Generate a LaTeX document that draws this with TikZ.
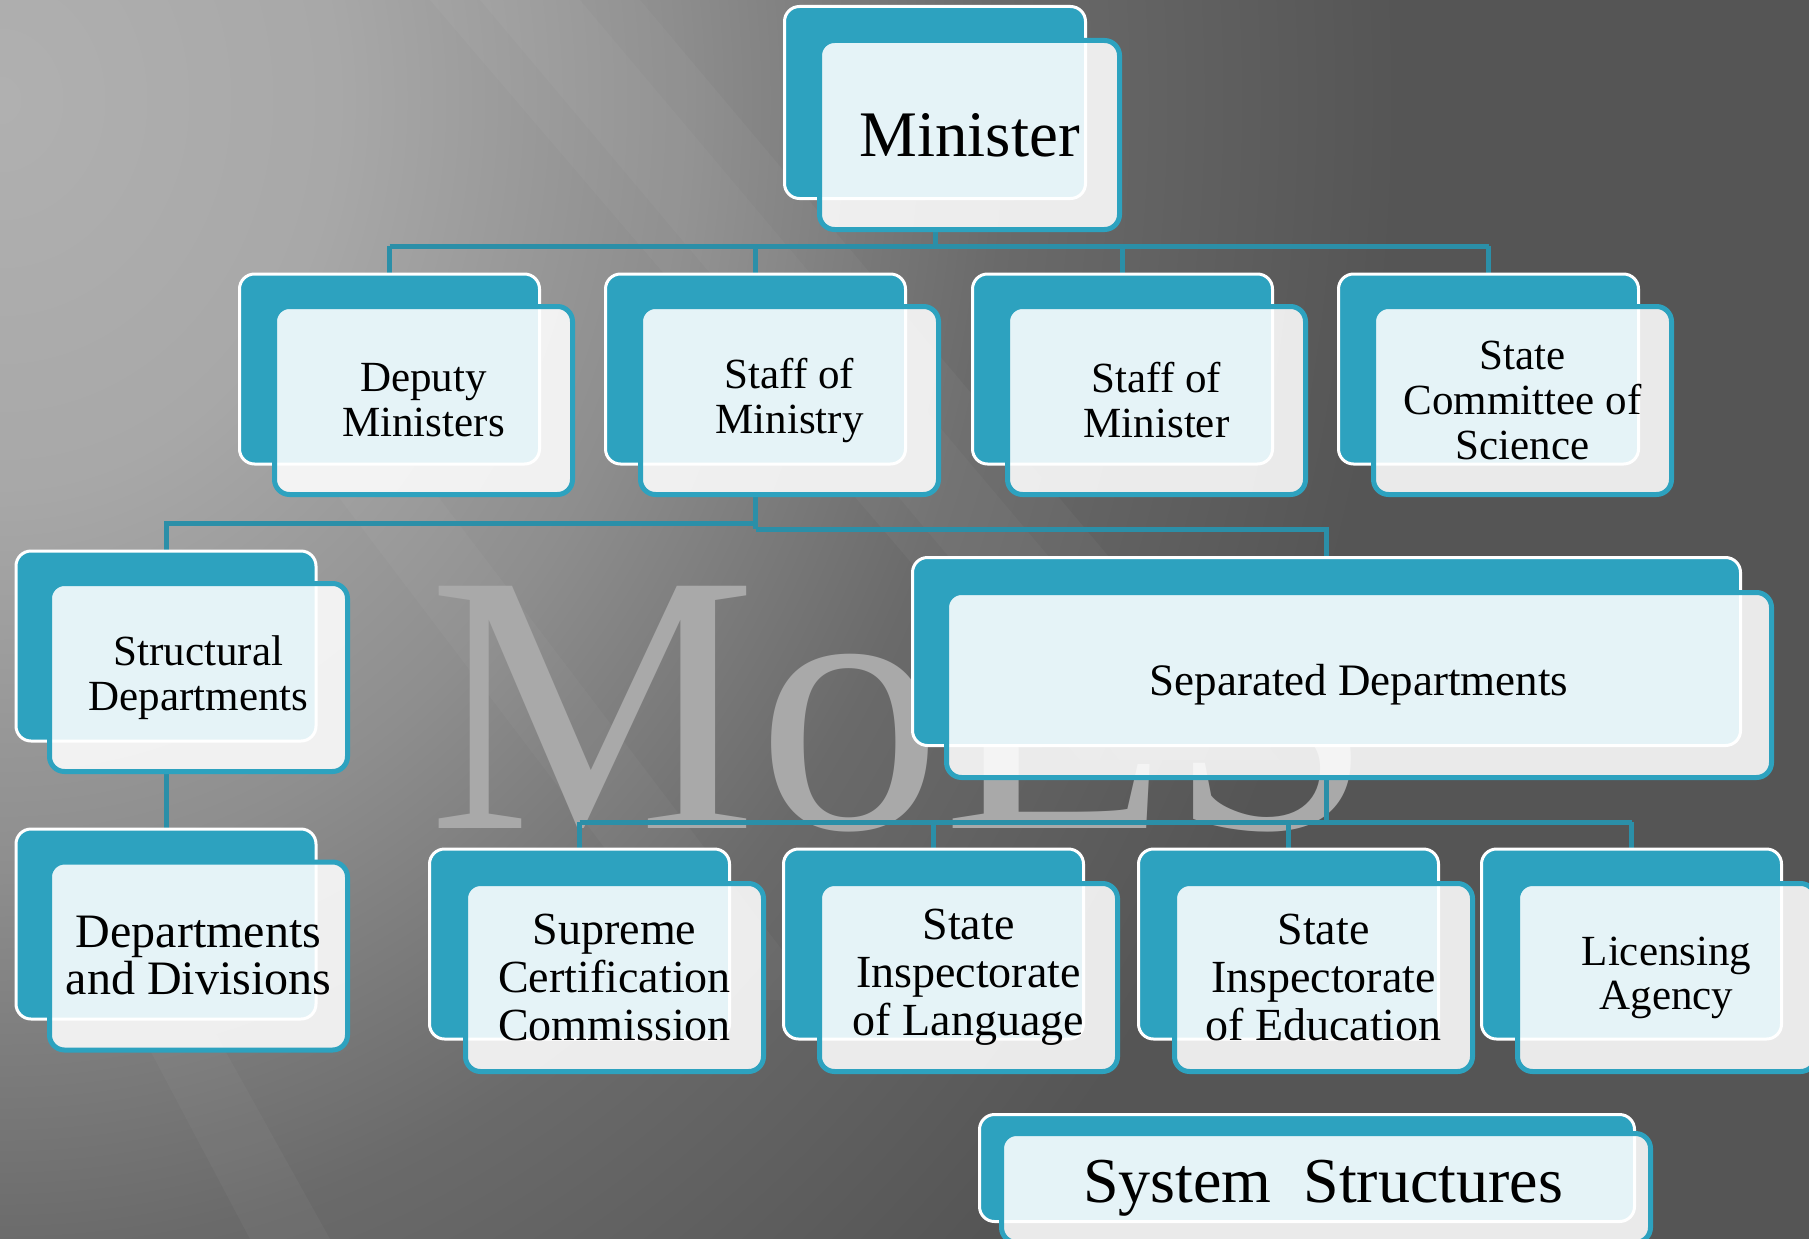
\documentclass[tikz,border=0pt]{standalone}
\usepackage{fontspec}
\setmainfont{Liberation Serif}
\definecolor{boxteal}{HTML}{2DA2BF}
\definecolor{lineteal}{HTML}{2B8FA8}
\definecolor{bgA}{HTML}{B0B0B0}
\definecolor{bgAA}{HTML}{A8A8A8}
\definecolor{bgB}{HTML}{8E8E8E}
\definecolor{bgBB}{HTML}{6A6A6A}
\definecolor{bgC}{HTML}{555555}
\definecolor{wmark}{HTML}{A9A9A9}
\pgfdeclareradialshading{bgrad}{\pgfpoint{0bp}{0bp}}{color(0bp)=(bgA); color(6bp)=(bgAA); color(12bp)=(bgB); color(18bp)=(bgBB); color(25bp)=(bgC); color(50bp)=(bgC)}
\pgfdeclarelayer{bglayer}
\pgfdeclarelayer{connlayer}
\pgfsetlayers{bglayer,connlayer,main}
\tikzset{
  backbox/.style={draw=white, line width=3pt, fill=boxteal, rounded corners=15pt, inner sep=0pt, minimum width=300pt, minimum height=190pt},
  frontbox/.style={draw=boxteal, line width=5pt, fill=white, fill opacity=0.88, text opacity=1, rounded corners=15pt, inner sep=0pt, minimum width=298pt, minimum height=188pt, align=center, text=black},
  conn/.style={draw=lineteal, line width=5pt},
  ftwo/.style={font=\fontsize{43}{45}\selectfont},
  ffour/.style={font=\fontsize{46}{48}\selectfont},
}
\begin{document}
\begin{tikzpicture}[x=1pt,y=-1pt]
\useasboundingbox (0,0) rectangle (1809,1239);
\begin{pgfonlayer}{bglayer}
  \fill[bgC] (0,0) rectangle (1809,1239);
  \begin{scope}
    \clip (0,0) rectangle (1809,1239);
    \shade[shading=bgrad] (0,100) ellipse [x radius=1400, y radius=1600];
    \fill[white, opacity=0.035] (430,0) -- (640,0) -- (1280,760) -- (1080,760) -- cycle;
    \fill[white, opacity=0.03] (480,0) -- (580,0) -- (1220,760) -- (1120,760) -- cycle;
    \fill[white, opacity=0.035] (60,880) -- (130,880) -- (330,1239) -- (250,1239) -- cycle;
    \fill[white, opacity=0.03] (280,420) -- (380,420) -- (820,1000) -- (720,1000) -- cycle;
  \end{scope}
  \node[anchor=base west, inner sep=0pt, text=wmark, font=\fontsize{370}{370}\selectfont] (wm) at (428,828) {MoES};
\end{pgfonlayer}

% Minister
\node[backbox, minimum width=301pt, minimum height=192pt] (minB) at (935,102.5) {};
\node[frontbox, minimum width=300pt, minimum height=189pt, font=\fontsize{65}{68}\selectfont] (min) at (969.5,135) {Minister};

% Row 2
\node[backbox] (depB) at (389.5,369) {};
\node[frontbox, ftwo] (dep) at (423.5,400.5) {Deputy\\Ministers};
\node[backbox] (smyB) at (755.5,369) {};
\node[frontbox, ftwo] (smy) at (789.5,400.5) {Staff of\\Ministry};
\node[backbox] (smrB) at (1122.5,369) {};
\node[frontbox, ftwo] (smr) at (1156.5,400.5) {Staff of\\Minister};
\node[backbox] (scsB) at (1488.5,369) {};
\node[frontbox, ftwo] (scs) at (1522.5,400.5) {State\\Committee of\\Science};

% Row 3
\node[backbox] (strB) at (166,646) {};
\node[frontbox, ftwo] (str) at (198.5,677.5) {Structural\\Departments};
\node[backbox, minimum width=828pt, minimum height=188pt] (sepB) at (1326.5,651.5) {};
\node[frontbox, minimum width=825pt, minimum height=185pt, font=\fontsize{45}{47}\selectfont] (sep) at (1359,685) {Separated Departments};
\node[backbox] (ddvB) at (166,924) {};
\node[frontbox, font=\fontsize{48}{47}\selectfont] (ddv) at (198.5,956) {Departments\\and Divisions};

% Row 4
\node[backbox] (supB) at (579.5,944) {};
\node[frontbox, ffour] (sup) at (614.5,977.5) {Supreme\\Certification\\Commission};
\node[backbox] (silB) at (933.5,944) {};
\node[frontbox, ffour] (sil) at (968.5,977.5) {State\\Inspectorate\\of Language};
\node[backbox] (sieB) at (1288.5,944) {};
\node[frontbox, ffour] (sie) at (1323.5,977.5) {State\\Inspectorate\\of Education};
\node[backbox] (licB) at (1631.5,944) {};
\node[frontbox, font=\fontsize{43}{44}\selectfont] (lic) at (1666.5,977.5) {Licensing\\Agency};

% System structures
\node[backbox, minimum width=655pt, minimum height=107pt] (sysB) at (1307,1168) {};
\node[frontbox, minimum width=649pt, minimum height=109pt] (sysF) at (1326,1188) {};
\node[font=\fontsize{64}{66}\selectfont, inner sep=0pt] (sys) at (1323,1188) {System\ \ Structures};

\begin{pgfonlayer}{connlayer}
  \coordinate (j1) at (935,246);
  \draw[conn] (minB |- min.south) -- (j1);
  \draw[conn] (depB |- j1) -- (scsB |- j1);
  \foreach \n in {depB,smyB,smrB,scsB} \draw[conn] (\n |- j1) -- (\n.north);
  \coordinate (j2a) at (755.5,523);
  \coordinate (j2b) at (755.5,529);
  \draw[conn] (smyB |- smy.south) -- (j2b);
  \draw[conn] (j2a) -- (strB |- j2a) -- (strB.north);
  \draw[conn] (j2b) -- (sepB |- j2b) -- (sepB.north);
  \draw[conn] (strB |- str.south) -- (ddvB.north);
  \coordinate (j3) at (1326.5,822);
  \draw[conn] (sepB |- sep.south) -- (j3);
  \draw[conn] (supB |- j3) -- (licB |- j3);
  \foreach \n in {supB,silB,sieB,licB} \draw[conn] (\n |- j3) -- (\n.north);
\end{pgfonlayer}
\end{tikzpicture}
\end{document}
